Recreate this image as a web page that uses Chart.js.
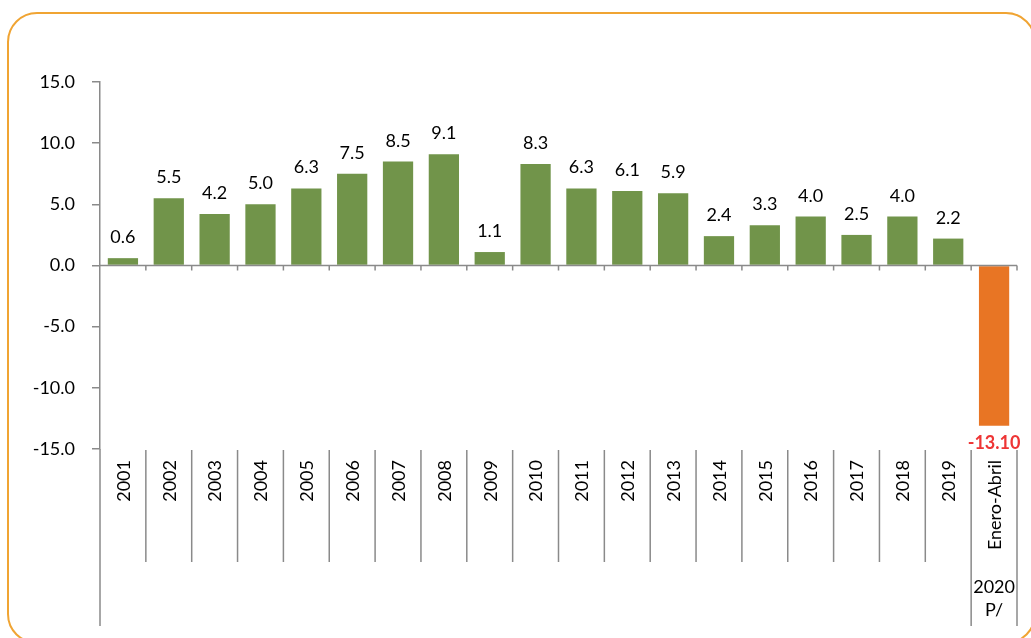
<!DOCTYPE html>
<html>
<head>
<meta charset="utf-8">
<script src="https://cdn.jsdelivr.net/npm/chart.js@4.4.0/dist/chart.umd.min.js"></script>
<style>
  body { margin: 0; background: #fff; overflow: hidden; }
  #frame {
    position: absolute; left: 7px; top: 12px; width: 1029px; height: 632px;
    box-sizing: border-box; border: 2.5px solid #F0A433; border-radius: 30px;
  }
  #c { position: absolute; left: 0; top: 0; }
</style>
</head>
<body>
<div id="frame"></div>
<canvas id="c" width="1031" height="638"></canvas>
<script>
// Data
const categories = ['2001', '2002', '2003', '2004', '2005', '2006', '2007', '2008', '2009', '2010',
    '2011', '2012', '2013', '2014', '2015', '2016', '2017', '2018', '2019', 'Enero-Abril'];
const growth = [0.6, 5.5, 4.2, 5.0, 6.3, 7.5, 8.5, 9.1, 1.1, 8.3, 6.3, 6.1, 5.9, 2.4, 3.3, 4.0, 2.5, 4.0, 2.2, -13.1];
const periodLabel = ['2020', 'P/'];
const yTicks = [-15, -10, -5, 0, 5, 10, 15];

const GREEN = '#71944A';
const ORANGE = '#E87524';
const AXIS = '#8a8a8a';
const FONT = "Lato, 'Open Sans', sans-serif";

const barColors = growth.map(v => v < 0 ? ORANGE : GREEN);

// draws zero line, category separators, labels and value labels
const decorations = {
    id: 'decorations',
    afterDatasetsDraw(chart) {
        const ctx = chart.ctx;
        const x = chart.scales.x;
        const y = chart.scales.y;
        const area = chart.chartArea;
        const n = categories.length;
        const half = (x.getPixelForValue(1) - x.getPixelForValue(0)) / 2;
        const y0 = y.getPixelForValue(0);

        ctx.save();
        ctx.strokeStyle = AXIS;
        ctx.lineWidth = 1.5;

        // zero line with ticks
        ctx.beginPath();
        ctx.moveTo(area.left, y0);
        ctx.lineTo(area.right, y0);
        for (let i = 1; i <= n; i++) {
            const bx = x.getPixelForValue(i - 1) + half;
            ctx.moveTo(bx, y0);
            ctx.lineTo(bx, y0 + 5);
        }
        // y axis continued below
        ctx.moveTo(area.left, area.bottom);
        ctx.lineTo(area.left, 626);
        // separators
        for (let i = 1; i <= n; i++) {
            const bx = x.getPixelForValue(i - 1) + half;
            ctx.moveTo(bx, area.bottom + 1);
            ctx.lineTo(bx, i >= n - 1 ? 626 : 562);
        }
        ctx.stroke();

        // category labels (vertical)
        ctx.fillStyle = '#000';
        ctx.font = '18px ' + FONT;
        categories.forEach((c, i) => {
            ctx.save();
            ctx.translate(x.getPixelForValue(i), 460);
            ctx.rotate(-Math.PI / 2);
            ctx.textAlign = 'right';
            ctx.textBaseline = 'middle';
            ctx.fillText(c, 0, 1);
            ctx.restore();
        });

        // period label under last category
        ctx.textAlign = 'center';
        ctx.textBaseline = 'middle';
        const lx = x.getPixelForValue(n - 1);
        ctx.fillText(periodLabel[0], lx, 587);
        ctx.fillText(periodLabel[1], lx, 610);

        // value labels
        growth.forEach((v, i) => {
            const bx = x.getPixelForValue(i);
            const by = y.getPixelForValue(v);
            if (v >= 0) {
                ctx.font = '18px ' + FONT;
                ctx.fillStyle = '#000';
                ctx.textBaseline = 'alphabetic';
                ctx.fillText(v.toFixed(1), bx, by - 15);
            } else {
                ctx.font = 'bold 18px ' + FONT;
                ctx.fillStyle = '#EE3535';
                ctx.textBaseline = 'top';
                ctx.fillText(v.toFixed(2), bx, by + 8);
            }
        });
        ctx.restore();
    }
};

new Chart(document.getElementById('c'), {
    type: 'bar',
    data: {
        labels: categories,
        datasets: [{
            data: growth,
            backgroundColor: barColors,
            borderWidth: 0,
            categoryPercentage: 1,
            barPercentage: 0.66
        }]
    },
    options: {
        responsive: false,
        animation: false,
        layout: { padding: { left: 0, top: 82, right: 14, bottom: 189 } },
        plugins: { legend: { display: false }, tooltip: { enabled: false } },
        scales: {
            x: { display: false },
            y: {
                min: -15,
                max: 15,
                afterFit(scale) { scale.width = 100; },
                afterBuildTicks(scale) { scale.ticks = yTicks.map(v => ({ value: v })); },
                border: { color: AXIS, width: 1.5 },
                grid: { drawOnChartArea: false, drawTicks: true, tickLength: 8, color: AXIS, lineWidth: 1.5 },
                ticks: {
                    padding: 17,
                    color: '#000',
                    font: { family: FONT, size: 18 },
                    callback: v => v.toFixed(1)
                }
            }
        }
    },
    plugins: [decorations]
});
</script>
</body>
</html>
